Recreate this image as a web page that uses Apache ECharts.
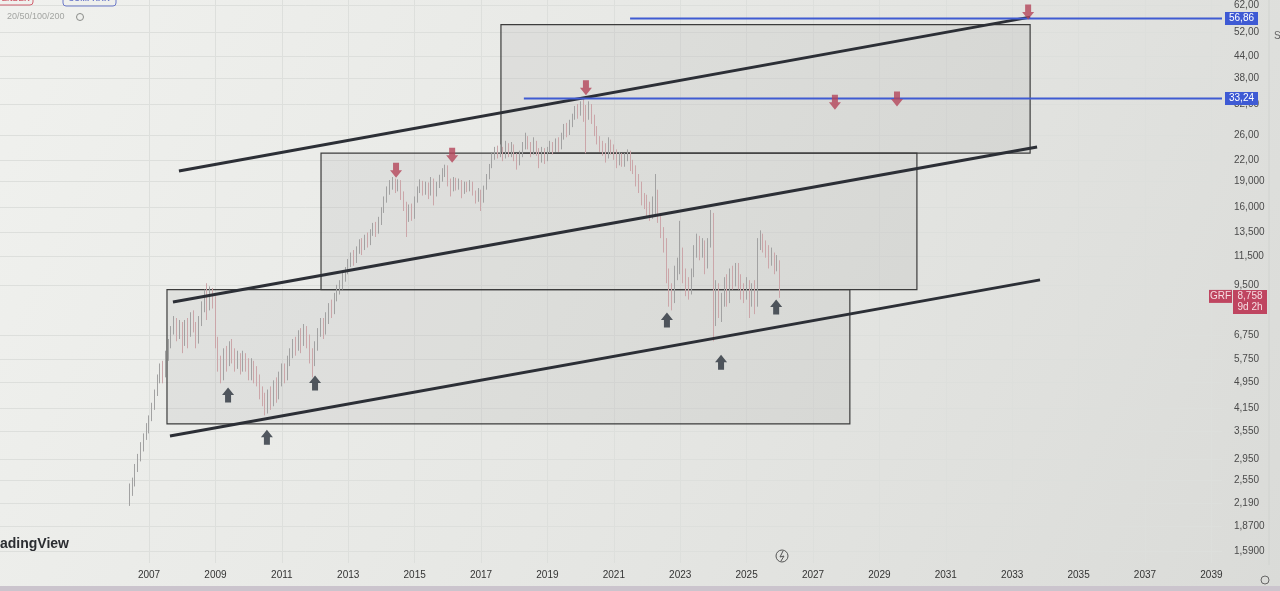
<!DOCTYPE html>
<html>
<head>
<meta charset="utf-8">
<title>GRF</title>
<script src="https://cdn.jsdelivr.net/npm/echarts@6.0.0/dist/echarts.min.js"></script>
<style>
  html, body { margin: 0; padding: 0; background: #e6e7e4; }
  #chart { width: 1280px; height: 591px; }
</style>
</head>
<body>
<div id="chart"></div>
<script>
// monthly bars, first bar = June 2006, rows are [open, close, low, high]
const firstBar = 2006 + 5 / 12
const bars = [
  // 2006
  [2.25, 2.35, 2.15, 2.5], [2.35, 2.5, 2.3, 2.6], [2.5, 2.75, 2.45, 2.85], [2.75, 2.95, 2.7, 3.05],
  [2.95, 3.2, 2.9, 3.3], [3.2, 3.4, 3.1, 3.5], [3.4, 3.6, 3.35, 3.75],
  // 2007
  [3.6, 3.85, 3.5, 3.95], [3.85, 4.2, 3.8, 4.3], [4.2, 4.6, 4.1, 4.7], [4.6, 5.0, 4.5, 5.2],
  [5.0, 5.4, 4.9, 5.6], [5.4, 5.2, 4.9, 5.7], [5.2, 5.9, 5.1, 6.1], [5.9, 6.4, 5.7, 6.6],
  [6.4, 7.0, 6.2, 7.2], [7.0, 7.4, 6.8, 7.7], [7.4, 6.8, 6.5, 7.6], [6.8, 7.2, 6.6, 7.5],
  // 2008
  [7.2, 6.5, 6.0, 7.4], [6.5, 7.3, 6.3, 7.5], [7.3, 6.8, 6.2, 7.6], [6.8, 7.6, 6.7, 7.9],
  [7.6, 7.2, 6.9, 8.0], [7.2, 6.6, 6.2, 7.4], [6.6, 7.4, 6.4, 7.7], [7.4, 8.2, 7.2, 8.5],
  [8.2, 8.8, 7.9, 9.2], [8.8, 8.3, 7.5, 9.6], [8.3, 8.8, 8.0, 9.4], [8.8, 8.6, 8.1, 9.3],
  // 2009
  [8.6, 6.5, 6.2, 8.8], [6.5, 5.6, 5.3, 6.7], [5.6, 5.3, 4.9, 5.9], [5.3, 5.9, 5.0, 6.2],
  [5.9, 5.7, 5.3, 6.3], [5.7, 6.2, 5.5, 6.5], [6.2, 6.0, 5.6, 6.6], [6.0, 5.6, 5.3, 6.2],
  [5.6, 5.8, 5.4, 6.1], [5.8, 5.5, 5.2, 6.0], [5.5, 5.9, 5.3, 6.1], [5.9, 5.6, 5.3, 6.0],
  // 2010
  [5.6, 5.3, 5.0, 5.8], [5.3, 5.5, 5.0, 5.8], [5.5, 5.2, 4.9, 5.7], [5.2, 5.0, 4.8, 5.5],
  [5.0, 4.6, 4.4, 5.2], [4.6, 4.4, 4.2, 4.8], [4.4, 4.1, 3.95, 4.6], [4.1, 4.5, 4.0, 4.7],
  [4.5, 4.3, 4.1, 4.8], [4.3, 4.8, 4.2, 5.0], [4.8, 4.6, 4.3, 5.1], [4.6, 5.0, 4.4, 5.3],
  // 2011
  [5.0, 5.4, 4.8, 5.6], [5.4, 5.1, 4.9, 5.6], [5.1, 5.6, 5.0, 5.9], [5.6, 6.0, 5.5, 6.2],
  [6.0, 6.4, 5.8, 6.6], [6.4, 6.2, 5.9, 6.7], [6.2, 6.8, 6.1, 7.0], [6.8, 6.5, 6.0, 7.1],
  [6.5, 7.0, 6.3, 7.3], [7.0, 6.6, 6.2, 7.2], [6.6, 6.0, 5.6, 6.8], [6.0, 5.7, 5.1, 6.2],
  // 2012
  [5.7, 6.3, 5.5, 6.5], [6.3, 6.9, 6.1, 7.1], [6.9, 7.3, 6.7, 7.6], [7.3, 7.0, 6.6, 7.6],
  [7.0, 7.6, 6.8, 7.9], [7.6, 8.2, 7.3, 8.4], [8.2, 8.0, 7.6, 8.6], [8.0, 8.7, 7.8, 9.0],
  [8.7, 9.2, 8.5, 9.5], [9.2, 9.5, 8.9, 9.8], [9.5, 10.0, 9.2, 10.3], [10.0, 10.4, 9.7, 10.7],
  // 2013
  [10.4, 11.0, 10.2, 11.3], [11.0, 11.5, 10.7, 11.8], [11.5, 11.2, 10.8, 12.0], [11.2, 12.0, 11.0, 12.3],
  [12.0, 12.6, 11.7, 12.9], [12.6, 12.2, 11.6, 13.0], [12.2, 13.0, 12.0, 13.3], [13.0, 12.6, 12.2, 13.5],
  [12.6, 13.5, 12.4, 13.8], [13.5, 14.0, 13.2, 14.4], [14.0, 13.6, 13.1, 14.5], [13.6, 14.5, 13.4, 15.0],
  // 2014
  [14.5, 15.6, 14.2, 16.0], [15.6, 16.8, 15.4, 17.2], [16.8, 17.8, 16.5, 18.4], [17.8, 18.6, 17.4, 19.2],
  [18.6, 19.0, 18.0, 19.6], [19.0, 18.2, 17.6, 19.4], [18.2, 18.9, 17.8, 19.3], [18.9, 17.5, 16.8, 19.2],
  [17.5, 16.4, 15.6, 17.8], [16.4, 14.8, 13.1, 16.6], [14.8, 16.0, 14.5, 16.3], [16.0, 15.2, 14.6, 16.4],
  // 2015
  [15.2, 16.8, 14.8, 17.2], [16.8, 18.0, 16.5, 18.4], [18.0, 18.8, 17.6, 19.3], [18.8, 17.8, 17.3, 19.1],
  [17.8, 18.6, 17.4, 19.0], [18.6, 17.6, 16.9, 18.9], [17.6, 19.0, 17.3, 19.6], [19.0, 18.0, 16.2, 19.4],
  [18.0, 18.6, 17.2, 19.0], [18.6, 19.4, 18.2, 19.9], [19.4, 20.3, 19.0, 20.8], [20.3, 20.5, 19.6, 21.3],
  // 2016
  [20.5, 19.0, 18.4, 21.2], [19.0, 18.0, 17.2, 19.4], [18.0, 19.2, 17.8, 19.6], [19.2, 18.4, 17.9, 19.5],
  [18.4, 19.0, 18.0, 19.4], [19.0, 17.8, 17.0, 19.2], [17.8, 18.6, 17.5, 19.0], [18.6, 18.2, 17.7, 19.0],
  [18.2, 18.8, 17.8, 19.2], [18.8, 17.6, 17.3, 19.0], [17.6, 17.0, 16.4, 17.9], [17.0, 17.8, 16.6, 18.2],
  // 2017
  [17.8, 16.8, 15.6, 18.0], [16.8, 18.2, 16.5, 18.5], [18.2, 19.6, 18.0, 20.0], [19.6, 21.0, 19.3, 21.4],
  [21.0, 22.5, 20.8, 23.0], [22.5, 23.4, 22.0, 24.0], [23.4, 22.8, 22.2, 24.2], [22.8, 23.6, 22.4, 24.4],
  [23.6, 22.6, 21.8, 24.0], [22.6, 23.8, 22.2, 25.0], [23.8, 23.0, 22.4, 24.6], [23.0, 23.6, 22.4, 24.8],
  // 2018
  [23.6, 22.4, 21.8, 24.4], [22.4, 21.6, 20.6, 23.0], [21.6, 22.8, 21.2, 23.4], [22.8, 24.0, 22.4, 24.8],
  [24.0, 25.2, 23.6, 26.4], [25.2, 24.4, 23.6, 25.8], [24.4, 23.2, 22.4, 24.8], [23.2, 24.6, 22.8, 25.6],
  [24.6, 23.4, 22.6, 25.0], [23.4, 22.0, 20.8, 23.8], [22.0, 23.4, 21.6, 24.0], [23.4, 22.2, 21.4, 23.8],
  // 2019
  [22.2, 23.4, 21.8, 24.0], [23.4, 24.2, 23.0, 25.0], [24.2, 23.6, 22.8, 24.8], [23.6, 24.8, 23.2, 25.4],
  [24.8, 24.0, 23.2, 25.6], [24.0, 25.6, 23.6, 26.4], [25.6, 27.4, 25.2, 28.0], [27.4, 26.4, 25.6, 28.2],
  [26.4, 28.0, 26.0, 28.8], [28.0, 29.4, 27.4, 30.0], [29.4, 31.0, 28.8, 31.6], [31.0, 30.2, 29.0, 32.0],
  // 2020
  [30.2, 31.6, 29.6, 32.6], [31.6, 30.4, 28.4, 33.2], [30.4, 30.0, 23.0, 31.8], [30.0, 31.2, 28.8, 32.6],
  [31.2, 29.0, 28.0, 32.0], [29.0, 26.6, 25.8, 29.8], [26.6, 25.2, 24.4, 27.6], [25.2, 24.0, 23.2, 25.8],
  [24.0, 23.6, 22.6, 25.0], [23.6, 22.8, 21.6, 24.6], [22.8, 24.6, 22.2, 25.6], [24.6, 23.8, 22.8, 25.2],
  // 2021
  [23.8, 23.0, 22.0, 24.4], [23.0, 21.8, 20.8, 23.6], [21.8, 22.6, 21.2, 23.2], [22.6, 21.6, 21.0, 23.0],
  [21.6, 22.4, 21.0, 23.0], [22.4, 23.0, 21.8, 23.6], [23.0, 21.2, 20.4, 23.4], [21.2, 20.8, 20.0, 22.0],
  [20.8, 19.6, 18.4, 21.2], [19.6, 18.6, 17.6, 20.0], [18.6, 17.2, 16.2, 19.0], [17.2, 16.8, 15.8, 17.6],
  // 2022
  [16.8, 16.0, 15.0, 17.4], [16.0, 15.4, 14.6, 16.6], [15.4, 16.6, 14.8, 17.2], [16.6, 17.8, 15.2, 20.0],
  [17.8, 15.0, 14.4, 18.0], [15.0, 13.6, 13.0, 15.4], [13.6, 12.6, 11.8, 14.0], [12.6, 10.2, 9.6, 13.0],
  [10.2, 9.0, 8.2, 10.6], [9.0, 8.6, 8.0, 9.6], [8.6, 10.4, 8.4, 10.8], [10.4, 10.8, 9.8, 11.4],
  // 2023
  [10.8, 11.8, 10.2, 14.6], [11.8, 10.2, 9.6, 12.2], [10.2, 9.4, 8.8, 10.6], [9.4, 9.2, 8.6, 10.0],
  [9.2, 10.2, 8.9, 10.6], [10.2, 11.8, 10.0, 12.4], [11.8, 12.6, 11.4, 13.4], [12.6, 12.0, 11.2, 13.2],
  [12.0, 12.4, 11.4, 13.0], [12.4, 11.0, 10.2, 12.8], [11.0, 12.4, 10.6, 13.0], [12.4, 15.0, 12.2, 15.7],
  // 2024
  [15.0, 8.6, 6.5, 15.4], [8.6, 9.2, 7.2, 9.8], [9.2, 8.0, 7.6, 9.6], [8.0, 8.6, 7.4, 9.0],
  [8.6, 9.6, 8.2, 10.0], [9.6, 8.6, 8.2, 10.2], [8.6, 10.0, 8.4, 10.6], [10.0, 9.8, 9.2, 10.8],
  [9.8, 10.6, 9.4, 11.0], [10.6, 9.8, 9.2, 11.0], [9.8, 9.2, 8.6, 10.2], [9.2, 9.0, 8.4, 9.6],
  // 2025
  [9.0, 9.4, 8.6, 10.0], [9.4, 8.6, 7.6, 9.8], [8.6, 9.2, 8.2, 9.6], [9.2, 8.4, 7.8, 9.8],
  [8.4, 12.6, 8.2, 13.0], [12.6, 13.2, 12.0, 13.7], [13.2, 12.4, 11.8, 13.4], [12.4, 12.0, 11.4, 12.8],
  [12.0, 11.2, 10.6, 12.4], [11.2, 11.6, 10.8, 12.2], [11.6, 10.8, 10.2, 11.8], [10.8, 11.0, 10.4, 11.6],
  // 2026
  [11.0, 8.758, 8.7, 11.2]
]

// drawings (x in years, y in price)
const boxes = [
  [[2017.60, 54.6], [2033.54, 23.0]],
  [[2012.18, 23.0], [2030.13, 9.2]],
  [[2007.54, 9.2], [2028.11, 3.73]]
]
const trendTop = [[2007.90, 20.4], [2033.54, 57.4]]
const trendMid = [[2007.72, 8.46], [2033.75, 23.97]]
const trendLow = [[2007.63, 3.44], [2033.84, 9.82]]
const levelStarts = [2021.49, 2018.29]
const levelPrices = [56.86, 33.24]
const levelTexts = ['56,86', '33,24']
const downArrows = [[2020.16, 35.7], [2014.44, 20.5], [2016.13, 22.7], [2027.66, 32.4], [2029.53, 33.1], [2033.48, 59.4]]
const upArrows = [[2009.38, 4.53], [2010.55, 3.41], [2012.0, 4.91], [2022.60, 7.5], [2024.23, 5.65], [2025.89, 8.18]]
const lastPrice = 8.758

// axes
const xMin = 2002.51
const xMax = 2039.32
const yMin = 1.465
const yMax = 64.4
const yearTicks = [2007, 2009, 2011, 2013, 2015, 2017, 2019, 2021, 2023, 2025, 2027, 2029, 2031, 2033, 2035, 2037, 2039]
const priceTicks = [62, 52, 44, 38, 32, 26, 22, 19, 16, 13.5, 11.5, 9.5, 6.75, 5.75, 4.95, 4.15, 3.55, 2.95, 2.55, 2.19, 1.87, 1.59]
const priceTickLabels = ['62,00', '52,00', '44,00', '38,00', '32,00', '26,00', '22,00', '19,000', '16,000', '13,500',
  '11,500', '9,500', '6,750', '5,750', '4,950', '4,150', '3,550', '2,950', '2,550', '2,190', '1,8700', '1,5900']

const chart = echarts.init(document.getElementById('chart'))

const font = 'Liberation Sans, Arial, sans-serif'
const downPath = 'path://M3,0 L9,0 L9,7 L12,7 L6,14 L0,7 L3,7 Z'
const upPath = 'path://M6,0 L12,7 L9,7 L9,14 L3,14 L3,7 L0,7 Z'

const priceLabel = (v) => {
  let best = 0
  for (let i = 1; i < priceTicks.length; i++) {
    if (Math.abs(Math.log(priceTicks[i] / v)) < Math.abs(Math.log(priceTicks[best] / v))) best = i
  }
  return priceTickLabels[best]
}

const lineSeries = (pts) => ({
  type: 'line',
  data: pts,
  symbol: 'none',
  silent: true,
  z: 4,
  lineStyle: { color: '#2c2f36', width: 3 }
})

const option = {
  animation: false,
  backgroundColor: new echarts.graphic.LinearGradient(0, 0, 1, 1, [
    { offset: 0, color: '#f0f1ee' },
    { offset: 0.5, color: '#e6e7e4' },
    { offset: 1, color: '#dadbd8' }
  ]),
  grid: { left: 0, right: 58, top: 0, bottom: 28 },
  xAxis: {
    type: 'value',
    min: xMin,
    max: xMax,
    axisLine: { show: false },
    axisTick: { show: false, customValues: yearTicks },
    axisLabel: {
      customValues: yearTicks,
      formatter: (v) => String(Math.round(v)),
      color: '#333333',
      fontSize: 10,
      fontFamily: font,
      margin: 7
    },
    splitLine: { show: true, lineStyle: { color: '#dddfdc', width: 1 } }
  },
  yAxis: {
    type: 'log',
    position: 'right',
    min: yMin,
    max: yMax,
    axisLine: { show: false },
    axisTick: { show: false, customValues: priceTicks },
    axisLabel: {
      customValues: priceTicks,
      formatter: priceLabel,
      color: '#4a4a4a',
      fontSize: 10,
      fontFamily: font,
      align: 'left',
      margin: 12
    },
    splitLine: { show: true, lineStyle: { color: '#dddfdc', width: 1 } }
  },
  series: [
    {
      type: 'candlestick',
      data: bars.map((b, i) => [firstBar + i / 12, b[0], b[1], b[2], b[3]]),
      barWidth: 1.2,
      z: 3,
      itemStyle: {
        color: '#a2a2a2',
        color0: '#cba6a9',
        borderColor: '#a2a2a2',
        borderColor0: '#cba6a9',
        borderWidth: 1
      },
      markArea: {
        silent: true,
        itemStyle: {
          color: 'rgba(110, 110, 110, 0.09)',
          borderColor: '#3c3c3c',
          borderWidth: 1.2
        },
        data: boxes.map(b => [{ coord: b[0] }, { coord: b[1] }])
      }
    },
    lineSeries(trendTop),
    lineSeries(trendMid),
    lineSeries(trendLow),
    ...levelPrices.map((p, i) => ({
      type: 'line',
      data: [[levelStarts[i], p], [xMax, p]],
      symbol: 'none',
      silent: true,
      z: 5,
      lineStyle: { color: '#3f5bd2', width: 2 }
    })),
    {
      type: 'scatter',
      data: downArrows,
      symbol: downPath,
      symbolSize: [12, 15],
      silent: true,
      z: 6,
      itemStyle: { color: '#b4455a' }
    },
    {
      type: 'scatter',
      data: upArrows,
      symbol: upPath,
      symbolSize: [12, 15],
      silent: true,
      z: 6,
      itemStyle: { color: '#2a323c' }
    }
  ]
}

chart.setOption(option)

// price boxes on the right scale, placed with the chart's own scale
const priceY = (p) => chart.convertToPixel({ yAxisIndex: 0 }, p)
const axisX = 1225

const graphics = []
levelPrices.forEach((p, i) => {
  const y = priceY(p)
  graphics.push({
    type: 'rect', shape: { x: axisX, y: y - 6.5, width: 33, height: 13 },
    style: { fill: '#3e5ad4' }, z: 20
  })
  graphics.push({
    type: 'text', x: axisX + 16.5, y: y,
    style: { text: levelTexts[i], fill: '#ffffff', font: '10px ' + font, align: 'center', verticalAlign: 'middle' }, z: 21
  })
})

const yLast = priceY(lastPrice)
graphics.push(
  { type: 'rect', shape: { x: 1209, y: yLast - 7, width: 23, height: 13 }, style: { fill: '#bf4560' }, z: 20 },
  { type: 'text', x: 1220.5, y: yLast - 0.5, style: { text: 'GRF', fill: '#f6dde2', font: '10px ' + font, align: 'center', verticalAlign: 'middle' }, z: 21 },
  { type: 'rect', shape: { x: 1233, y: yLast - 7, width: 34, height: 24 }, style: { fill: '#bf4560' }, z: 20 },
  { type: 'text', x: 1250, y: yLast - 0.5, style: { text: '8,758', fill: '#f6dde2', font: '10px ' + font, align: 'center', verticalAlign: 'middle' }, z: 21 },
  { type: 'text', x: 1250, y: yLast + 10, style: { text: '9d 2h', fill: '#f6dde2', font: '10px ' + font, align: 'center', verticalAlign: 'middle' }, z: 21 }
)

// TradingView bits around the chart
graphics.push(
  { type: 'rect', shape: { x: -6, y: -10, width: 39, height: 15, r: 3 }, style: { fill: 'none', stroke: '#d0606e', lineWidth: 1 }, z: 20 },
  { type: 'text', x: 13, y: -1, style: { text: 'VENDER', fill: '#d0606e', font: 'bold 8px ' + font, align: 'center', verticalAlign: 'middle' }, z: 21 },
  { type: 'rect', shape: { x: 63, y: -10, width: 53, height: 16, r: 3 }, style: { fill: 'none', stroke: '#6b78c8', lineWidth: 1 }, z: 20 },
  { type: 'text', x: 89, y: -1, style: { text: 'COMPRAR', fill: '#6b78c8', font: 'bold 8px ' + font, align: 'center', verticalAlign: 'middle' }, z: 21 },
  { type: 'text', x: 7, y: 17, style: { text: '20/50/100/200', fill: '#a3a5a2', font: '9px ' + font, verticalAlign: 'middle' }, z: 21 },
  { type: 'circle', shape: { cx: 80, cy: 17, r: 3.5 }, style: { fill: 'none', stroke: '#8a8c89', lineWidth: 1 }, z: 21 },
  { type: 'text', x: 0, y: 544, style: { text: 'adingView', fill: '#2b2d31', font: 'bold 14px ' + font, verticalAlign: 'middle' }, z: 21 },
  { type: 'circle', shape: { cx: 782, cy: 556, r: 6 }, style: { fill: 'none', stroke: '#555', lineWidth: 1 }, z: 21 },
  { type: 'polyline', shape: { points: [[783, 551], [780, 557], [784, 556], [781, 561]] }, style: { fill: 'none', stroke: '#555', lineWidth: 1 }, z: 21 },
  { type: 'circle', shape: { cx: 1265, cy: 580, r: 4 }, style: { fill: 'none', stroke: '#666', lineWidth: 1 }, z: 21 },
  { type: 'line', shape: { x1: 1269, y1: 0, x2: 1269, y2: 565 }, style: { stroke: '#d0d2cf', lineWidth: 1 }, z: 21 },
  { type: 'text', x: 1274, y: 36, style: { text: 'S', fill: '#666', font: '10px ' + font, verticalAlign: 'middle' }, z: 21 },
  { type: 'rect', shape: { x: 0, y: 586, width: 1280, height: 5 }, style: { fill: '#cbc4cd' }, z: 21 }
)

chart.setOption({ graphic: graphics })
</script>
</body>
</html>
